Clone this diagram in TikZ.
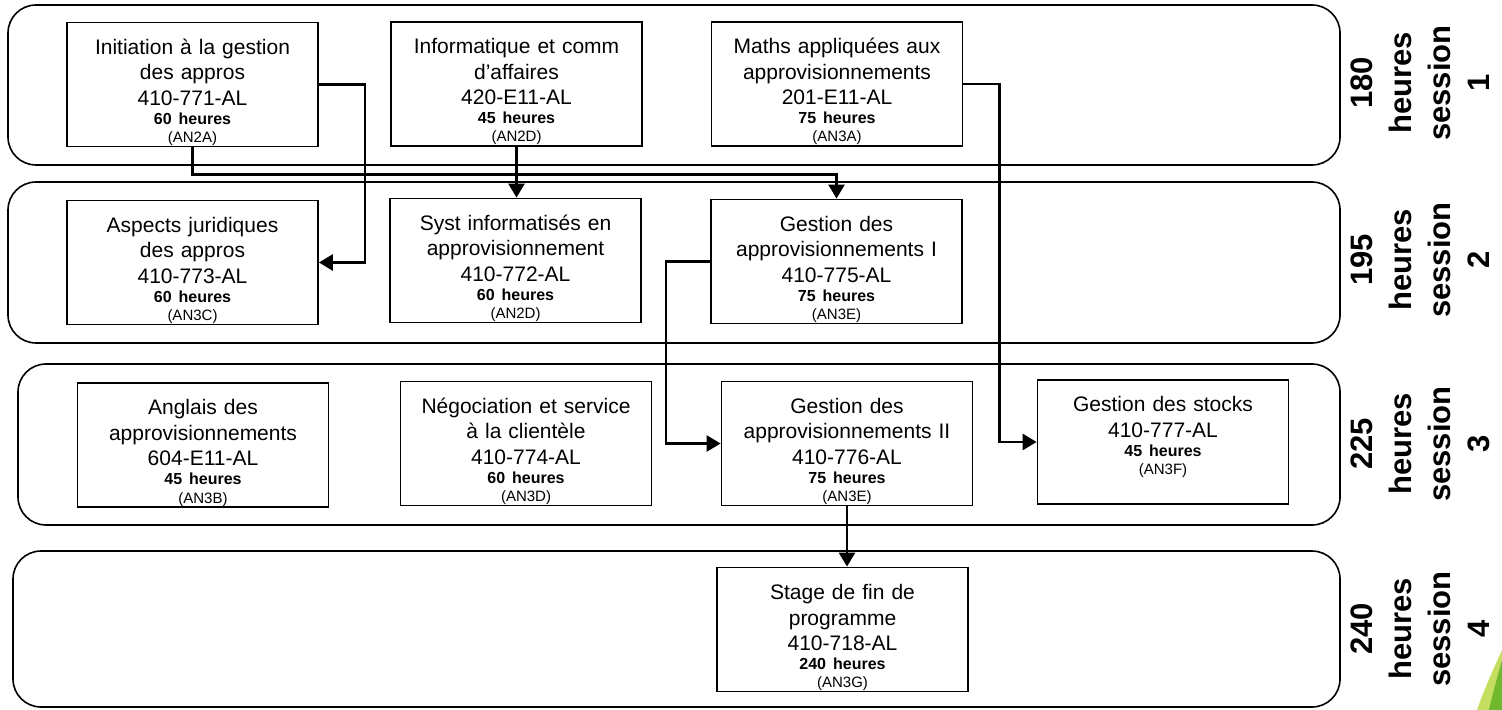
\documentclass[tikz,border=0pt]{standalone}
\usepackage{fontspec}
\setmainfont{Liberation Sans}
\usetikzlibrary{arrows.meta}
\definecolor{feuille}{RGB}{112,184,46}
\definecolor{feuilleclair}{RGB}{196,222,96}
\newcommand\hrs[2]{\par{\bfseries\fontsize{8}{9.5}\selectfont #1 heures\par}{\fontsize{7.5}{9}\selectfont (#2)\par}}

\begin{document}
\begin{tikzpicture}[
            x=0.5pt, y=-0.5pt,
            session/.style={draw=black, line width=0.8pt, rounded corners=14pt},
            cours/.style={draw=black, line width=0.9pt, rectangle, inner xsep=2.25pt, inner ysep=0pt,
                text width=121pt, align=center, text height=16pt, text depth=46pt,
                font=\fontsize{10.5}{12.75}\selectfont},
            duree/.style={rotate=90, align=center, font=\bfseries\fontsize{15.5}{19.5}\selectfont},
            lien/.style={draw=black, line width=1.3pt, -{Triangle[length=7pt,width=8pt]}},
        ]
            \useasboundingbox (0,0) rectangle (1502,710);
            \draw[session] (8,5) rectangle (1340,165);
            \draw[session] (8,182) rectangle (1340,343);
            \draw[session] (18,364) rectangle (1340,525);
            \draw[session] (13,551) rectangle (1340,707);
            \node[duree] (s1) at (1420,83) {180\\heures\\session\\1};
            \node[duree] (s2) at (1420,260) {195\\heures\\session\\2};
            \node[duree] (s3) at (1420,444) {225\\heures\\session\\3};
            \node[duree] (s4) at (1420,629) {240\\heures\\session\\4};
            \node[cours] (init) at (192.5,84.5) {Initiation à la gestion\\des appros\\410-771-AL\hrs{60}{AN2A}};
            \node[cours] (info) at (516.5,84) {Informatique et comm\\d’affaires\\420-E11-AL\hrs{45}{AN2D}};
            \node[cours] (maths) at (837,84) {Maths appliquées aux\\approvisionnements\\201-E11-AL\hrs{75}{AN3A}};
            \node[cours] (jurid) at (192.5,262.5) {Aspects juridiques\\des appros\\410-773-AL\hrs{60}{AN3C}};
            \node[cours] (syst) at (515.5,260.5) {Syst informatisés en\\approvisionnement\\410-772-AL\hrs{60}{AN2D}};
            \node[cours] (gest1) at (836.5,261.5) {Gestion des\\approvisionnements I\\410-775-AL\hrs{75}{AN3E}};
            \node[cours] (angl) at (203,445) {Anglais des\\approvisionnements\\604-E11-AL\hrs{45}{AN3B}};
            \node[cours] (nego) at (526,443.5) {Négociation et service\\à la clientèle\\410-774-AL\hrs{60}{AN3D}};
            \node[cours] (gest2) at (847,443.5) {Gestion des\\approvisionnements II\\410-776-AL\hrs{75}{AN3E}};
            \node[cours] (stocks) at (1163,442) {Gestion des stocks\\410-777-AL\hrs{45}{AN3F}};
            \node[cours] (stage) at (842.5,629.5) {Stage de fin de\\programme\\410-718-AL\hrs{240}{AN3G}};
            \draw[lien] (init.east) -- ++(46,0) |- (jurid.east);
            \draw[lien] (init.south) -- ++(0,27) -| (gest1.north);
            \draw[lien] (info.south) -- (info.south |- syst.north);
            \draw[lien] (maths.east) -- ++(36,0) |- (stocks.west);
            \draw[lien] (gest1.west) -- ++(-44,0) |- (gest2.west);
            \draw[lien] (gest2.south) -- (gest2.south |- stage.north);
            \fill[feuilleclair] (1502,650) .. controls (1492,672) and (1483,692) .. (1477,710) -- (1502,710) -- cycle;
            \fill[feuille] (1502,660) .. controls (1497,678) and (1492,696) .. (1489,710) -- (1502,710) -- cycle;
        \end{tikzpicture}
\end{document}
